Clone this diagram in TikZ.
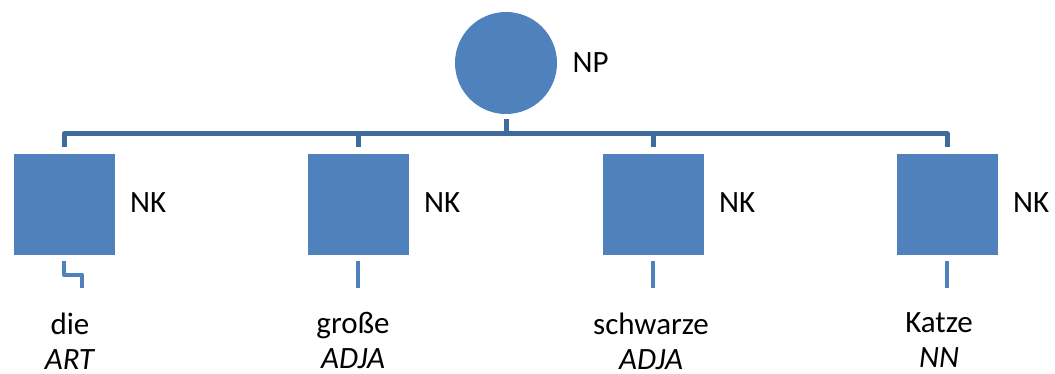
\documentclass[tikz,border=0pt]{standalone}
\usepackage{fontspec}
\setmainfont{Carlito}
\usetikzlibrary{calc}
\definecolor{nodeblue}{HTML}{4F81BD}
\definecolor{barblue}{HTML}{3E6A9C}
\begin{document}
\begin{tikzpicture}[x=0.75pt,y=-0.75pt,line join=round]
	\tikzset{every node/.style={font=\fontsize{23.25pt}{26.25pt}\selectfont},
		cat/.style={fill=nodeblue,inner sep=0pt,minimum size=75.75pt},
		lab/.style={anchor=base west,inner sep=0pt},
		word/.style={anchor=base,align=center,inner sep=0pt},
		bar/.style={draw=barblue,line width=3.75pt},
		leaf/.style={draw=nodeblue,line width=3.4pt}}
	\useasboundingbox (0,0) rectangle (1055,374);
	% phrase node and its daughters
	\node[cat,circle,minimum size=76.5pt] (np) at (506,63) {};
	\node[lab] (nplab) at ($(np.east)+(15,10)$) {NP};
	\foreach \i/\p in {1/64,2/358,3/653,4/947}{
		\node[cat] (nk\i) at (\p,204) {};
		\node[lab] (nklab\i) at ($(nk\i.east)+(15,8)$) {NK};
	}
	% words with their tags (base is the tag line)
	\node[word] (w1) at (70,369) {die\\\textit{ART}};
	\node[word] (w2) at (353,368) {große\\\textit{ADJA}};
	\node[word] (w3) at (651,369) {schwarze\\\textit{ADJA}};
	\node[word] (w4) at (939,367) {Katze\\\textit{NN}};
	% branches
	\coordinate (fork) at (506,134);
	\draw[bar] ($(np.south)+(0,5)$) -- (fork);
	\draw[bar] ($(nk1.north)+(0,-6)$) |- (fork) -| ($(nk4.north)+(0,-6)$);
	\foreach \i in {2,3}
		\draw[bar] ($(nk\i.north)+(0,-6)$) -- (nk\i.north |- fork);
	\foreach \i in {2,3,4}
		\draw[leaf] ($(nk\i.south)+(0,6)$) -- ++(0,27);
	\draw[leaf] ($(nk1.south)+(0,6)$) -- ++(0,14) -| ++(18,13);
\end{tikzpicture}
\end{document}
